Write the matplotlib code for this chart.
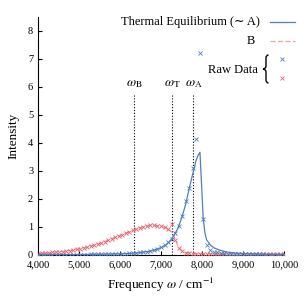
import numpy as np
import matplotlib
matplotlib.use("Agg")
import matplotlib.pyplot as plt
from matplotlib.lines import Line2D
from matplotlib.path import Path
from matplotlib.patches import PathPatch

plt.rcParams['font.family'] = ['Liberation Serif', 'DejaVu Serif']
plt.rcParams['mathtext.fontset'] = 'stix'

# ---- data ----
raw_freq = np.linspace(4000, 10000, 71)
raw_A = [0.01, 0.01, 0.01, 0.01, 0.01, 0.01, 0.01, 0.01, 0.01, 0.01,
         0.01, 0.01, 0.015, 0.015, 0.015, 0.02, 0.02, 0.02, 0.025, 0.025,
         0.03, 0.03, 0.035, 0.04, 0.045, 0.05, 0.055, 0.065, 0.075, 0.09,
         0.10, 0.12, 0.15, 0.18, 0.22, 0.28, 0.35, 0.45, 0.58, 0.78,
         1.02, 1.40, 1.94, 2.39, 3.10, 4.15, 7.22, 1.29, 0.37, 0.18,
         0.12, 0.09, 0.07, 0.06, 0.05, 0.045, 0.04, 0.035, 0.03, 0.03,
         0.025, 0.025, 0.02, 0.02, 0.02, 0.015, 0.015, 0.015, 0.01, 0.01,
         0.01]
raw_B = [0.05, 0.06, 0.07, 0.08, 0.09, 0.10, 0.11, 0.12, 0.14, 0.16,
         0.18, 0.20, 0.22, 0.25, 0.28, 0.31, 0.35, 0.39, 0.44, 0.48,
         0.53, 0.58, 0.63, 0.68, 0.73, 0.78, 0.83, 0.88, 0.93, 0.97,
         1.01, 1.04, 1.06, 1.06, 1.05, 1.03, 0.99, 0.93, 1.12, 0.55,
         0.26, 0.13, 0.08, 0.06, 0.05, 0.05, 0.04, 0.04, 0.04, 0.04,
         0.035, 0.035, 0.035, 0.03, 0.03, 0.03, 0.03, 0.03, 0.03, 0.03,
         0.03, 0.03, 0.03, 0.03, 0.03, 0.03, 0.03, 0.03, 0.03, 0.03,
         0.03]

fit_A_freq = [4000, 4500, 5000, 5500, 6000, 6300, 6500, 6700, 6900, 7000,
              7100, 7200, 7300, 7400, 7500, 7600, 7700, 7800, 7850, 7900,
              7950, 7990, 8030, 8070, 8110, 8200, 8300, 8440, 8600, 8800,
              9000, 9500, 10000]
fit_A = [0.01, 0.012, 0.018, 0.025, 0.04, 0.06, 0.085, 0.13, 0.2, 0.26,
         0.34, 0.47, 0.66, 0.92, 1.3, 1.8, 2.45, 3.05, 3.35, 3.55,
         3.67, 2.5, 1.3, 0.8, 0.55, 0.36, 0.25, 0.17, 0.11, 0.07,
         0.05, 0.025, 0.015]

fit_B_freq = [4000, 4500, 5000, 5500, 6000, 6300, 6500, 6750, 6900, 7000,
              7100, 7200, 7280, 7350, 7420, 7500, 7600, 7800, 8500, 10000]
fit_B = [0.05, 0.11, 0.21, 0.41, 0.70, 0.87, 0.98, 1.06, 1.05, 1.03,
         0.98, 0.90, 0.80, 0.55, 0.28, 0.15, 0.08, 0.05, 0.04, 0.03]

marker_freqs = [6340, 7280, 7790]
marker_labels = [r'$\omega_\mathrm{B}$', r'$\omega_\mathrm{T}$', r'$\omega_\mathrm{A}$']

xticks = [4000, 5000, 6000, 7000, 8000, 9000, 10000]
xticklabels = ['4,000', '5,000', '6,000', '7,000', '8,000', '9,000', '10,000']
yticks = [0, 1, 2, 3, 4, 5, 6, 7, 8]

blue = '#4f7fbf'
red = '#e8606a'
red_line = '#f0a0a6'

W = 306
fig = plt.figure(figsize=(3.06, 3.06), dpi=100)
ax = fig.add_axes([38 / W, 1 - 255 / W, (284 - 38) / W, (255 - 17) / W])

for f in marker_freqs:
    ax.plot([f, f], [0, 5.7], color='black', linestyle=(0, (1, 1.6)), linewidth=0.8, zorder=1)
for f, lab in zip(marker_freqs, marker_labels):
    ax.text(f, 6.1, lab, ha='center', va='center', fontsize=9.5)

ax.plot(fit_B_freq, fit_B, color=red_line, linestyle=(0, (4, 2)), linewidth=0.9, zorder=2)
ax.plot(raw_freq, raw_B, linestyle='none', marker='x', markersize=3, markeredgewidth=0.6,
        color=red, zorder=3)
ax.plot(fit_A_freq, fit_A, color=blue, linewidth=0.9, zorder=4)
ax.plot(raw_freq, raw_A, linestyle='none', marker='x', markersize=3, markeredgewidth=0.6,
        color=blue, zorder=5)

ax.set_xlim(4000, 10000)
ax.set_ylim(0, 8.5)
ax.set_xticks(xticks)
ax.set_xticklabels(xticklabels)
ax.set_yticks(yticks)
ax.tick_params(direction='in', length=3, width=0.8, labelsize=7.5)
ax.spines['top'].set_visible(False)
ax.spines['right'].set_visible(False)
ax.set_xlabel(r'Frequency $\omega$ / cm$^{-1}$', fontsize=9.5, labelpad=5)
ax.set_ylabel('Intensity', fontsize=9.5, labelpad=6)

def fx(x):
    return x / W

def fy(y):
    return 1 - y / W

fig.text(fx(260), fy(22), 'Thermal Equilibrium (∼ A)', ha='right', va='center', fontsize=9)
fig.add_artist(Line2D([fx(270), fx(295)], [fy(22), fy(22)], color=blue, linewidth=0.9,
                      transform=fig.transFigure))
fig.text(fx(255), fy(41), 'B', ha='right', va='center', fontsize=9)
fig.add_artist(Line2D([fx(270), fx(295)], [fy(41), fy(41)], color=red_line, linewidth=0.9,
                      linestyle=(0, (4, 2)), transform=fig.transFigure))
fig.text(fx(258), fy(70), 'Raw Data', ha='right', va='center', fontsize=9)

# curly brace
bx0, bx1, bxm = 268.5, 266.0, 263.0
by0, bym, by1 = 55.0, 69.0, 83.0
verts = [(bx0, by0), (bx1, by0), (bx1, by0 + 3),
         (bx1, bym - 3),
         (bx1, bym), (bxm, bym),
         (bx1, bym), (bx1, bym + 3),
         (bx1, by1 - 3),
         (bx1, by1), (bx0, by1)]
codes = [Path.MOVETO, Path.CURVE3, Path.CURVE3,
         Path.LINETO,
         Path.CURVE3, Path.CURVE3,
         Path.CURVE3, Path.CURVE3,
         Path.LINETO,
         Path.CURVE3, Path.CURVE3]
verts_fig = [(fx(x), fy(y)) for x, y in verts]
fig.add_artist(PathPatch(Path(verts_fig, codes), facecolor='none', edgecolor='black',
                         linewidth=1.0, transform=fig.transFigure))

fig.add_artist(Line2D([fx(282)], [fy(59)], linestyle='none', marker='x', markersize=3,
                      markeredgewidth=0.6, color=blue, transform=fig.transFigure))
fig.add_artist(Line2D([fx(282)], [fy(78)], linestyle='none', marker='x', markersize=3,
                      markeredgewidth=0.6, color=red, transform=fig.transFigure))

fig.savefig('out.png', dpi=100)
